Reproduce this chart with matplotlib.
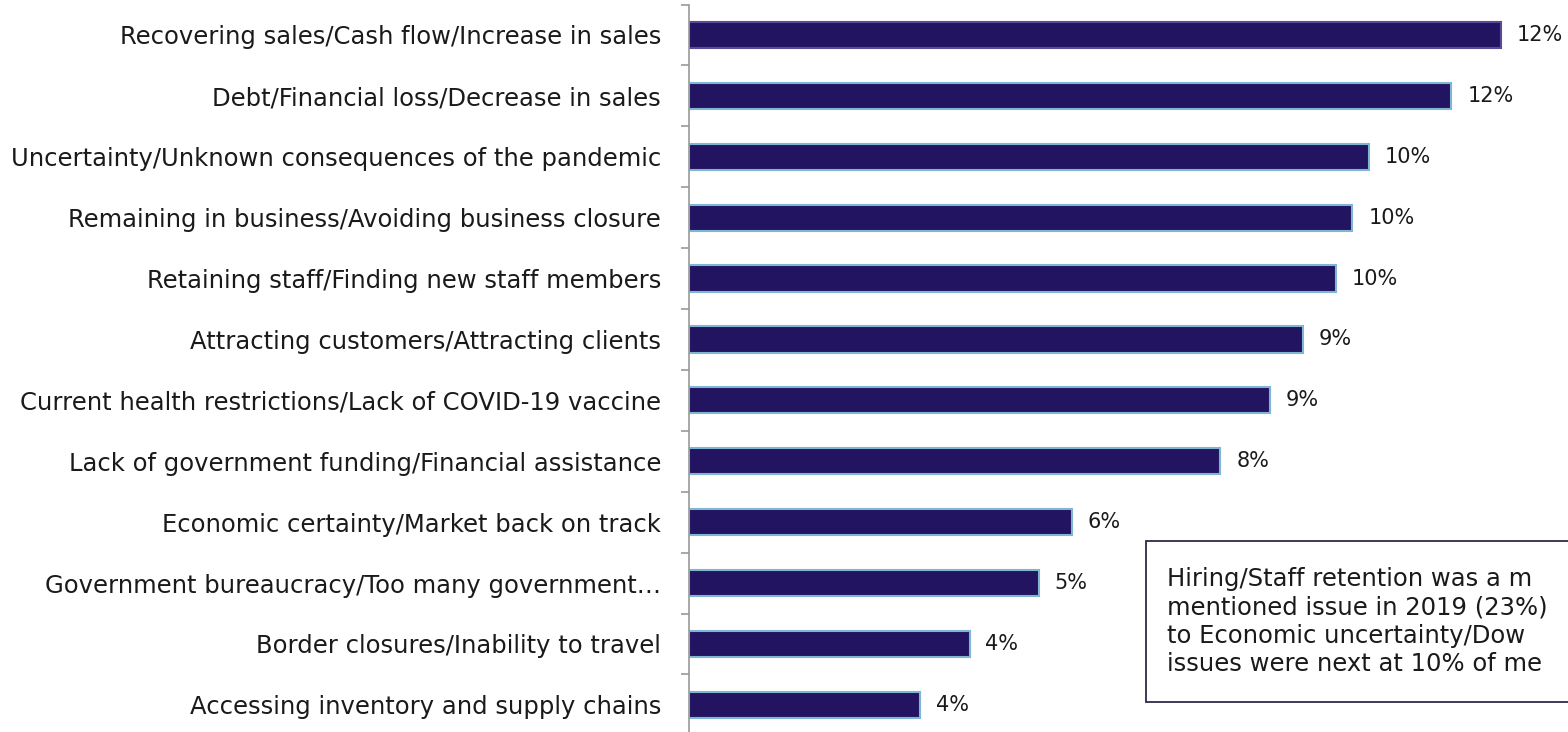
import numpy as np
import matplotlib.pyplot as plt
from matplotlib.patches import Rectangle
from matplotlib.ticker import FixedLocator

categories = [
    "Recovering sales/Cash flow/Increase in sales",
    "Debt/Financial loss/Decrease in sales",
    "Uncertainty/Unknown consequences of the pandemic",
    "Remaining in business/Avoiding business closure",
    "Retaining staff/Finding new staff members",
    "Attracting customers/Attracting clients",
    "Current health restrictions/Lack of COVID-19 vaccine",
    "Lack of government funding/Financial assistance",
    "Economic certainty/Market back on track",
    "Government bureaucracy/Too many government\u2026",
    "Border closures/Inability to travel",
    "Accessing inventory and supply chains",
]
values = [12.3, 11.55, 10.3, 10.05, 9.8, 9.3, 8.8, 8.05, 5.8, 5.3, 4.25, 3.5]
value_labels = ["12%", "12%", "10%", "10%", "10%", "9%", "9%", "8%", "6%", "5%", "4%", "4%"]
# the note box runs off the right edge in the original; only the visible part is kept
note_lines = ["Hiring/Staff retention was a m",
              "mentioned issue in 2019 (23%)",
              "to Economic uncertainty/Dow",
              "issues were next at 10% of me"]

plt.rcParams['font.family'] = ['DejaVu Sans']

W, H = 1568, 732
fig = plt.figure(figsize=(W / 100, H / 100), dpi=100)
# axes: spine at x=689 px, top boundary at y=4.5 px, row pitch ~61 px
left = 689 / W
top = 4.5 / H
n = len(categories)
pitch = 60.9
ax_h = n * pitch / H
ax = fig.add_axes([left, 1 - top - ax_h, 1 - left, ax_h])

y = np.arange(n)
edges = ['#5a4a9a'] + ['#7eb6d4'] * (n - 1)
ax.barh(y, values, height=0.43, color='#231462', edgecolor=edges, linewidth=1.5)
ax.set_ylim(n - 0.5, -0.5)
ax.set_xlim(0, (W - 689) / 66.0)

for yi, v, lab in zip(y, values, value_labels):
    ax.annotate(lab, (v, yi), xytext=(16 / 1.389, 0), textcoords='offset points',
                ha='left', va='center', fontsize=15, color='#1a1a1a')

ax.set_yticks(y)
ax.set_yticklabels(categories, fontsize=17.5, color='#1a1a1a')
ax.yaxis.set_minor_locator(FixedLocator(np.arange(-0.5, n, 1.0)))
ax.tick_params(axis='y', which='major', length=0, pad=20)
ax.tick_params(axis='y', which='minor', length=6, width=1.2, color='#999999')
ax.set_xticks([])
for s in ['top', 'right', 'bottom']:
    ax.spines[s].set_visible(False)
ax.spines['left'].set_color('#999999')
ax.spines['left'].set_linewidth(1.2)

# note box
fig.patches.append(Rectangle((1146 / W, 1 - 702 / H), 500 / W, 161 / H,
                             transform=fig.transFigure, facecolor='white',
                             edgecolor='#2b2b45', linewidth=1.3))
fig.text(1167 / W, 1 - 621.5 / H, "\n".join(note_lines), ha='left', va='center',
         fontsize=17.5, color='#1a1a1a', linespacing=1.22)

fig.savefig('out.png', dpi=100)
